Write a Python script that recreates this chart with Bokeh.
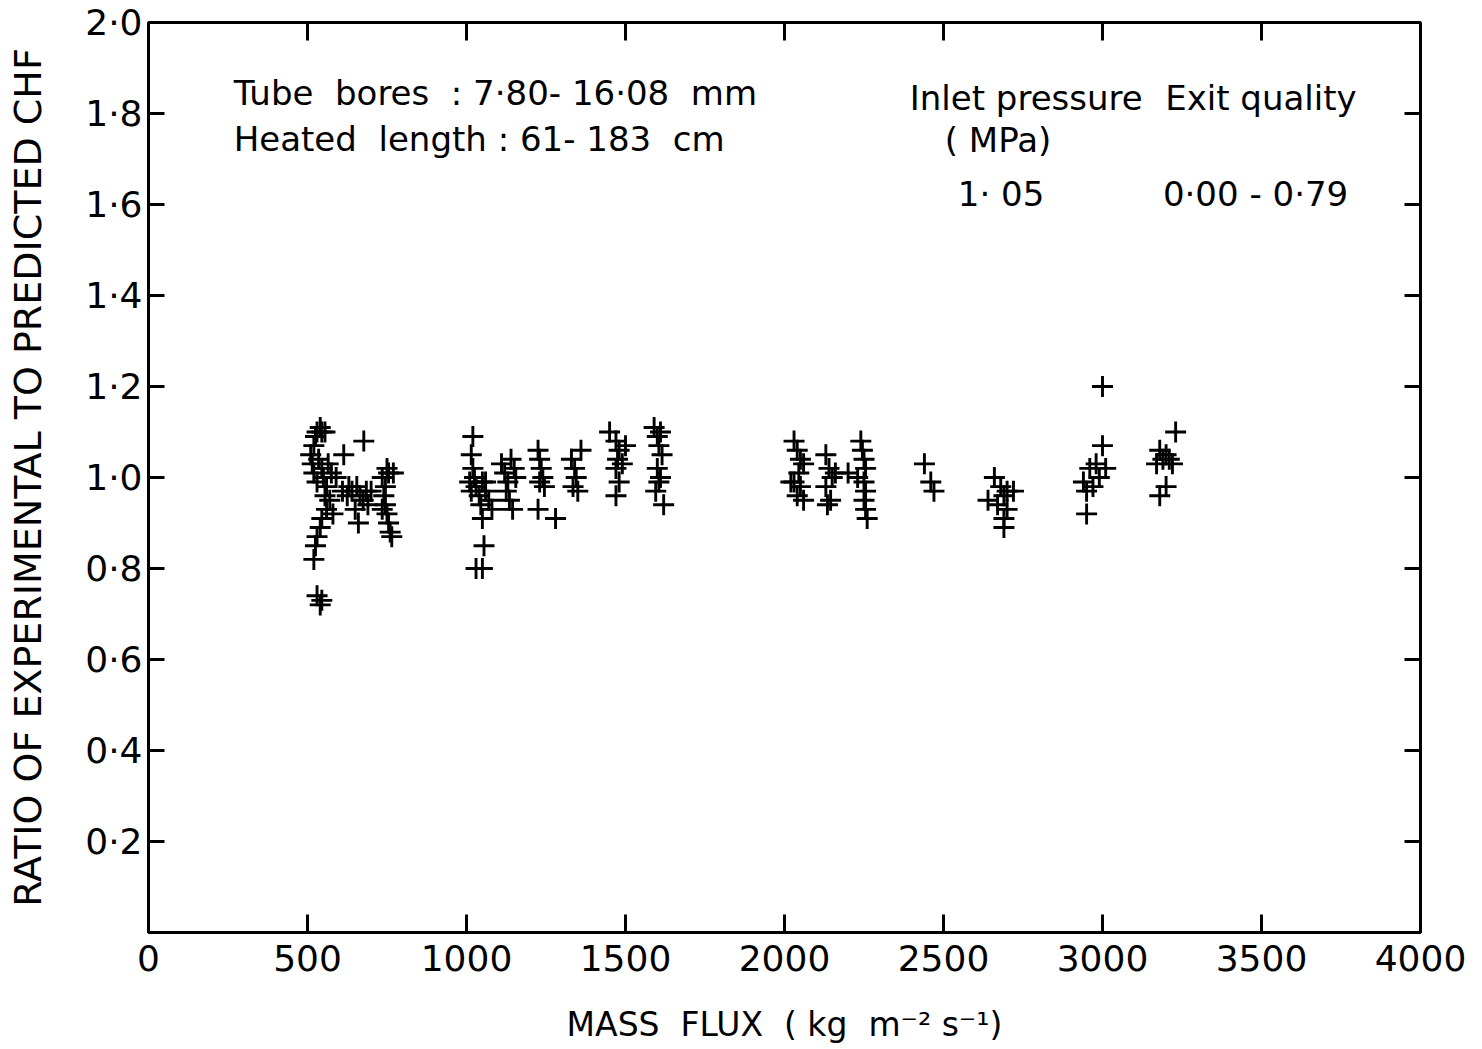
from bokeh.plotting import figure
from bokeh.models import FixedTicker, LinearAxis, Label, Range1d
from bokeh.embed import file_html
from bokeh.resources import INLINE

# ---- data ----
mass_flux = [
    510, 515, 520, 525, 530, 540, 545, 555, 520, 530, 535, 545, 550, 560, 565, 575, 590, 555, 560, 545,
    540, 530, 525, 520, 530, 545, 540, 570, 580, 614, 677,
    610, 625, 640, 655, 665, 675, 685, 700, 650, 660, 630, 690,
    735, 745, 750, 755, 740, 745, 750, 755, 760, 765, 735, 770,
    1020, 1015, 1020, 1025, 1030, 1015, 1040, 1050, 1060, 1070, 1080, 1045, 1050, 1055, 1030, 1050, 1060, 1010,
    1110, 1120, 1130, 1140, 1150, 1125, 1135, 1145, 1155,
    1225, 1230, 1235, 1240, 1230, 1245, 1225, 1280,
    1330, 1340, 1345, 1335, 1350, 1360,
    1450, 1470, 1480, 1475, 1490, 1470, 1480, 1470, 1500,
    1590, 1600, 1610, 1605, 1615, 1600, 1610, 1595, 1620, 1605,
    2030, 2040, 2050, 2060, 2045, 2030, 2050, 2040, 2060, 2020,
    2130, 2140, 2150, 2130, 2145, 2135, 2160,
    2240, 2245, 2250, 2255, 2250, 2255, 2250, 2255, 2260, 2200, 2230,
    2440, 2460, 2470,
    2640, 2660, 2680, 2690, 2700, 2690, 2670, 2700, 2720, 2690,
    3000, 3000, 2980, 2960, 2940, 2950, 2970, 2990, 2950, 3010,
    3230, 3180, 3200, 3190, 3210, 3170, 3220, 3200, 3180,
]
chf_ratio = [
    1.05, 1.03, 1.07, 1.09, 1.10, 1.11, 1.10, 1.10, 1.01, 0.99, 1.04, 1.02, 1.00, 0.98, 1.03, 1.01, 1.00, 0.96, 0.93, 0.91,
    0.89, 0.87, 0.85, 0.82, 0.74, 0.73, 0.72, 0.95, 0.92, 1.05, 1.08,
    0.97, 0.96, 0.97, 0.98, 0.96, 0.95, 0.97, 0.97, 0.93, 0.90, 0.98, 0.94,
    1.00, 0.98, 1.02, 1.01, 0.96, 0.94, 0.92, 0.90, 0.88, 0.87, 0.93, 1.01,
    1.09, 1.05, 1.02, 1.00, 0.98, 0.97, 0.96, 0.99, 0.97, 0.95, 0.93, 0.94, 0.91, 0.85, 0.80, 0.80, 0.99, 0.99,
    1.03, 1.01, 0.99, 1.04, 1.02, 0.97, 0.95, 0.93, 1.00,
    1.06, 1.04, 1.02, 1.00, 0.99, 0.98, 0.93, 0.91,
    1.04, 1.02, 1.00, 0.98, 0.97, 1.06,
    1.10, 1.08, 1.06, 1.04, 1.03, 1.02, 0.99, 0.96, 1.07,
    1.11, 1.09, 1.10, 1.07, 1.05, 1.02, 1.00, 0.97, 0.94, 0.99,
    1.08, 1.06, 1.04, 1.03, 1.01, 0.99, 0.98, 0.96, 0.95, 0.99,
    1.05, 1.02, 1.00, 0.98, 0.95, 0.94, 1.01,
    1.08, 1.06, 1.04, 1.02, 0.99, 0.97, 0.95, 0.93, 0.91, 1.01, 1.00,
    1.03, 0.99, 0.97,
    0.95, 1.00, 0.98, 0.96, 0.93, 0.91, 0.94, 0.97, 0.97, 0.89,
    1.20, 1.07, 1.03, 1.02, 0.99, 0.97, 0.98, 1.00, 0.92, 1.02,
    1.10, 1.06, 1.05, 1.04, 1.04, 1.03, 1.03, 0.98, 0.96,
]

x_ticks = [0, 500, 1000, 1500, 2000, 2500, 3000, 3500, 4000]
x_tick_labels = ["0", "500", "1000", "1500", "2000", "2500", "3000", "3500", "4000"]
y_ticks = [0.2, 0.4, 0.6, 0.8, 1.0, 1.2, 1.4, 1.6, 1.8, 2.0]
y_tick_labels = ["0·2", "0·4", "0·6", "0·8", "1·0", "1·2", "1·4", "1·6", "1·8", "2·0"]

FONT = "DejaVu Sans"
NB = "\u00a0"

p = figure(width=1466, height=1046, output_backend="svg", toolbar_location=None,
           x_range=Range1d(0, 4000), y_range=Range1d(0, 2.0),
           min_border_left=148, min_border_right=46, min_border_top=22, min_border_bottom=114)
p.grid.visible = False
p.outline_line_color = "black"
p.outline_line_width = 3
p.background_fill_color = "white"
p.border_fill_color = "white"

p.cross(mass_flux, chf_ratio, size=21, line_width=2.9, color="black")

for ax in p.xaxis:
    ax.ticker = FixedTicker(ticks=x_ticks)
    ax.major_label_overrides = {t: l for t, l in zip(x_ticks, x_tick_labels)}
    ax.major_tick_in = 18
    ax.major_tick_out = 0
    ax.minor_tick_line_color = None
    ax.axis_line_width = 3
    ax.major_tick_line_width = 3
    ax.major_label_text_font = FONT
    ax.major_label_text_font_size = "36px"
    ax.major_label_text_color = "black"
    ax.major_label_standoff = 12
    ax.axis_label = f"MASS{NB}{NB}FLUX{NB}{NB}({NB}kg{NB}{NB}m⁻²{NB}s⁻¹)"
    ax.axis_label_text_font = FONT
    ax.axis_label_text_font_size = "33px"
    ax.axis_label_text_font_style = "normal"
    ax.axis_label_text_color = "black"
    ax.axis_label_standoff = 31

for ax in p.yaxis:
    ax.ticker = FixedTicker(ticks=y_ticks)
    ax.major_label_overrides = {t: l for t, l in zip(y_ticks, y_tick_labels)}
    ax.major_tick_in = 16
    ax.major_tick_out = 0
    ax.minor_tick_line_color = None
    ax.axis_line_width = 3
    ax.major_tick_line_width = 3
    ax.major_label_text_font = FONT
    ax.major_label_text_font_size = "36px"
    ax.major_label_text_color = "black"
    ax.major_label_standoff = 6
    ax.axis_label = "RATIO OF EXPERIMENTAL TO PREDICTED CHF"
    ax.axis_label_text_font = FONT
    ax.axis_label_text_font_size = "38px"
    ax.axis_label_text_font_style = "normal"
    ax.axis_label_text_color = "black"
    ax.axis_label_standoff = 32

top = LinearAxis(ticker=FixedTicker(ticks=x_ticks[1:-1]), major_label_text_font_size="0px",
                 major_tick_in=18, major_tick_out=0, minor_tick_line_color=None,
                 axis_line_width=3, major_tick_line_width=3, major_label_text_color=None)
right = LinearAxis(ticker=FixedTicker(ticks=y_ticks[:-1]), major_label_text_font_size="0px",
                   major_tick_in=16, major_tick_out=0, minor_tick_line_color=None,
                   axis_line_width=3, major_tick_line_width=3, major_label_text_color=None)
p.add_layout(top, "above")
p.add_layout(right, "right")

def note(x, y, txt, size="34px"):
    p.add_layout(Label(x=x, y=y, text=txt.replace(" ", NB), text_font=FONT, text_font_size=size,
                       text_baseline="middle", text_align="left", text_color="black"))

note(268, 1.844, "Tube  bores  : 7·80- 16·08  mm")
note(268, 1.745, "Heated  length : 61- 183  cm")
note(2394, 1.835, "Inlet pressure")
note(3197, 1.835, "Exit quality")
note(2504, 1.741, "( MPa)")
note(2545, 1.624, "1· 05")
note(3190, 1.624, "0·00 - 0·79")

open("out.html", "w").write(file_html(p, INLINE))
